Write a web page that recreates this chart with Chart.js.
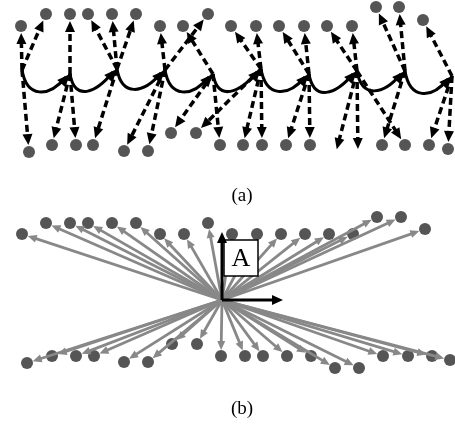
<!DOCTYPE html>
<html>
<head>
<meta charset="utf-8">
<script src="https://cdn.jsdelivr.net/npm/chart.js@4.4.1/dist/chart.umd.min.js"></script>
<style>
html, body { margin: 0; padding: 0; background: #fff; }
#diagram { display: block; }
</style>
</head>
<body>
<canvas id="diagram" width="455" height="429"></canvas>
<script>
// panel (a): chain of nodes, each pointing at some of the dots
const chainNodes = [[22,70],[70,74],[117,69],[165,70],[213,74],[261,69],[309,74],[357,71],[405,71],[452,76]];
const topDotsA = [[21,26],[46,14],[70,14],[88,14],[112,14],[136,14],[160,26],[183,26],[208,14],[231,26],
                  [256,26],[279,26],[304,26],[327,26],[352,26],[376,7],[399,7],[423,20]];
const bottomDotsA = [[29,152],[52,145],[76,145],[93,145],[124,151],[148,151],[171,133],[196,133],[220,145],
                     [243,145],[262,145],[286,145],[310,145],[382,145],[405,145],[429,145],[448,149]];
// dashed links: [node index, target x, target y]
const linksA = [
    [0,21,26],[0,46,14],[0,29,152],
    [1,70,14],[1,52,145],[1,76,145],
    [2,88,14],[2,112,14],[2,136,14],[2,93,145],
    [3,160,26],[3,208,14],[3,124,151],[3,148,151],
    [4,183,26],[4,171,133],[4,220,145],
    [5,231,26],[5,256,26],[5,196,133],[5,243,145],[5,262,145],
    [6,279,26],[6,304,26],[6,286,145],[6,310,145],
    [7,327,26],[7,352,26],[7,335,156],[7,358,156],[7,405,145],
    [8,376,7],[8,399,7],[8,382,145],
    [9,423,20],[9,429,145],[9,448,149]
];

// panel (b): everything points out of one origin
const originB = [222,300];
const topDotsB = [[22,234],[46,223],[70,223],[88,223],[112,223],[136,223],[160,234],[184,234],[208,223],
                  [232,234],[257,234],[281,234],[305,234],[329,234],[353,234],[377,217],[401,217],[425,229]];
const bottomDotsB = [[27,363],[52,356],[76,356],[94,356],[124,362],[148,362],[172,344],[197,344],[221,356],
                     [245,356],[263,356],[287,356],[311,356],[335,368],[359,368],[383,356],[408,356],[432,356],[450,360]];
const frameEnds = [[222,232],[283,300]];
const frameBox = [224,240,258,276];
const boxLabel = 'A';
const panelLabels = [['(a)',242,196],['(b)',242,409]];

const DOT = '#555555';
const GRAY = '#888888';

function toPx(chart, p) {
    return [chart.scales.x.getPixelForValue(p[0]), chart.scales.y.getPixelForValue(p[1])];
}

function head(ctx, tx, ty, ux, uy, len, wid) {
    ctx.beginPath();
    ctx.moveTo(tx, ty);
    ctx.lineTo(tx - ux*len - uy*wid/2, ty - uy*len + ux*wid/2);
    ctx.lineTo(tx - ux*len + uy*wid/2, ty - uy*len - ux*wid/2);
    ctx.closePath();
    ctx.fill();
}

function arrow(ctx, a, b, o) {
    const dx = b[0]-a[0], dy = b[1]-a[1];
    const len = Math.hypot(dx, dy);
    const ux = dx/len, uy = dy/len;
    const tx = b[0] - ux*o.shorten, ty = b[1] - uy*o.shorten;
    ctx.save();
    ctx.strokeStyle = o.color;
    ctx.fillStyle = o.color;
    ctx.lineWidth = o.width;
    ctx.setLineDash(o.dash || []);
    ctx.beginPath();
    ctx.moveTo(a[0], a[1]);
    ctx.lineTo(tx - ux*o.head*0.7, ty - uy*o.head*0.7);
    ctx.stroke();
    ctx.setLineDash([]);
    head(ctx, tx, ty, ux, uy, o.head, o.headW);
    ctx.restore();
}

const arrowPlugin = {
    id: 'arrows',
    afterDatasetsDraw(chart) {
        const ctx = chart.ctx;
        // chain of curved solid arrows
        ctx.save();
        ctx.strokeStyle = '#000';
        ctx.fillStyle = '#000';
        ctx.lineWidth = 3;
        for (let i = 0; i < chainNodes.length - 1; i++) {
            const p0 = toPx(chart, chainNodes[i]);
            const p3 = toPx(chart, chainNodes[i+1]);
            const w = p3[0] - p0[0];
            const p1 = [p0[0] + w*0.1, p0[1] + 28];
            const p2 = [p3[0] - w*0.45, p3[1] + 24];
            ctx.beginPath();
            ctx.moveTo(p0[0], p0[1]);
            ctx.bezierCurveTo(p1[0], p1[1], p2[0], p2[1], p3[0] - 4, p3[1] + 3);
            ctx.stroke();
            const dx = p3[0] - p2[0], dy = p3[1] - p2[1];
            const l = Math.hypot(dx, dy);
            head(ctx, p3[0], p3[1], dx/l, dy/l, 13, 11);
        }
        ctx.restore();
        // dashed links
        linksA.forEach(l => {
            arrow(ctx, toPx(chart, chainNodes[l[0]]), toPx(chart, [l[1], l[2]]),
                  {color: '#000', width: 3.5, dash: [7,4], head: 11, headW: 10, shorten: 7});
        });
        // panel (b) gray arrows
        const o = toPx(chart, originB);
        topDotsB.concat(bottomDotsB).forEach(d => {
            arrow(ctx, o, toPx(chart, d), {color: GRAY, width: 2.8, head: 9, headW: 8, shorten: 6});
        });
        // box with label
        const b0 = toPx(chart, [frameBox[0], frameBox[1]]);
        const b1 = toPx(chart, [frameBox[2], frameBox[3]]);
        ctx.save();
        ctx.fillStyle = '#fff';
        ctx.fillRect(b0[0], b0[1], b1[0]-b0[0], b1[1]-b0[1]);
        ctx.strokeStyle = '#000';
        ctx.lineWidth = 1.5;
        ctx.strokeRect(b0[0], b0[1], b1[0]-b0[0], b1[1]-b0[1]);
        ctx.fillStyle = '#000';
        ctx.font = '26px "Liberation Serif", serif';
        ctx.textAlign = 'center';
        ctx.textBaseline = 'middle';
        ctx.fillText(boxLabel, (b0[0]+b1[0])/2, (b0[1]+b1[1])/2 + 1);
        ctx.restore();
        frameEnds.forEach(e => {
            arrow(ctx, [o[0], o[1]], toPx(chart, e), {color: '#000', width: 3, head: 11, headW: 10, shorten: 0});
        });
        // panel captions
        ctx.save();
        ctx.fillStyle = '#000';
        ctx.font = '19px "Liberation Serif", serif';
        ctx.textAlign = 'center';
        ctx.textBaseline = 'middle';
        panelLabels.forEach(t => {
            const p = toPx(chart, [t[1], t[2]]);
            ctx.fillText(t[0], p[0], p[1]);
        });
        ctx.restore();
    }
};

const toPoints = arr => arr.map(p => ({x: p[0], y: p[1]}));

const dotStyle = {
    pointRadius: 6,
    pointHoverRadius: 6,
    pointBackgroundColor: DOT,
    pointBorderWidth: 0,
    showLine: false,
    clip: false
};

const diagramConfig = {
    type: 'scatter',
    data: {
        datasets: [
            Object.assign({ label: 'top a', data: toPoints(topDotsA) }, dotStyle),
            Object.assign({ label: 'bottom a', data: toPoints(bottomDotsA) }, dotStyle),
            Object.assign({ label: 'top b', data: toPoints(topDotsB) }, dotStyle),
            Object.assign({ label: 'bottom b', data: toPoints(bottomDotsB) }, dotStyle)
        ]
    },
    options: {
        responsive: false,
        animation: false,
        layout: { padding: 0, autoPadding: false },
        plugins: { legend: { display: false }, tooltip: { enabled: false } },
        scales: {
            x: { type: 'linear', min: 0, max: 455, display: false },
            y: { type: 'linear', min: 0, max: 429, reverse: true, display: false }
        }
    },
    plugins: [arrowPlugin]
};

const diagramChart = new Chart(
    document.getElementById('diagram'),
    diagramConfig
);
</script>
</body>
</html>
